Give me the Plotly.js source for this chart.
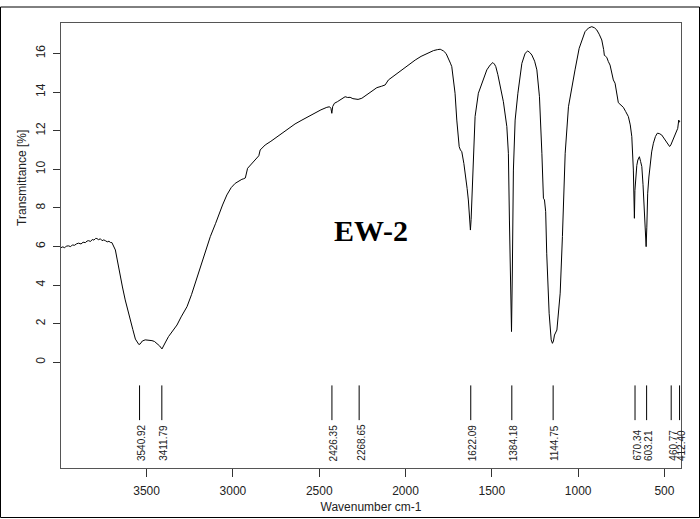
<!DOCTYPE html>
<html>
<head>
<meta charset="utf-8">
<script src="https://cdn.plot.ly/plotly-3.0.1.min.js"></script>
<style>
html,body{margin:0;padding:0;background:#fff;}
#chart{width:700px;height:519px;}
</style>
</head>
<body>
<div id="chart"></div>
<script>
// Wavenumber (cm-1) and transmittance (%)
const wavenumber = [
3996,3985,3975,3965,3952,3940,3930,3918,3905,3894,3880,3868,3855,3845,3836,3825,3815,3805,3795,3788,
3778,3768,3758,3748,3739,3728,3718,3710,3701,3692,3681,3670,3653,3640,3624,3610,3595,3580,3565,3556,
3545,3537,3525,3508,3490,3469,3455,3440,3425,3411,3400,3390,3373,3350,3324,3300,3266,3240,3218,3190,
3166,3131,3100,3083,3060,3035,3010,2987,2965,2948,2940,2928,2915,2900,2880,2861,2850,2842,2813,2780,
2755,2720,2678,2640,2600,2560,2523,2490,2456,2440,2432,2427,2422,2412,2395,2378,2365,2350,2335,2321,
2305,2292,2275,2253,2235,2215,2190,2166,2140,2118,2099,2060,2021,1980,1944,1910,1886,1860,1838,1815,
1799,1790,1780,1765,1751,1740,1732,1722,1713,1703,1695,1689,1682,1674,1662,1651,1643,1636,1630,1624,
1620,1616,1611,1607,1597,1578,1558,1539,1529,1510,1494,1485,1477,1465,1452,1433,1413,1404,1398,1390,
1386,1381,1375,1365,1349,1326,1307,1292,1280,1268,1252,1239,1224,1210,1201,1195,1188,1182,1168,1156,
1149,1143,1137,1123,1104,1091,1075,1056,1033,1018,994,975,960,940,921,905,892,878,863,852,
848,840,834,825,815,796,786,767,752,738,725,709,698,689,680,676,674,671,666,660,
654,648,645,638,631,624,618,612,606,602,597,590,583,574,564,552,541,530,516,506,
496,486,477,470,463,455,448,440,433,423,417,413,409
];
const transmittance = [
5.94,5.98,5.93,6.02,6.03,5.99,6.08,6.06,6.14,6.17,6.13,6.22,6.20,6.28,6.30,6.26,6.36,6.33,6.42,6.41,
6.35,6.40,6.30,6.34,6.30,6.24,6.27,6.21,6.20,6.05,5.82,5.30,4.61,3.90,3.23,2.70,2.19,1.70,1.20,1.07,
0.92,0.95,1.10,1.16,1.15,1.12,1.08,0.98,0.85,0.69,0.85,1.05,1.33,1.62,1.93,2.35,2.88,3.50,4.09,4.90,
5.56,6.51,7.20,7.63,8.15,8.67,9.05,9.27,9.40,9.48,9.50,9.55,10.05,10.20,10.40,10.57,10.70,11.00,11.26,11.45,
11.61,11.85,12.12,12.35,12.55,12.75,12.93,13.08,13.21,13.24,13.15,12.90,13.25,13.42,13.50,13.59,13.70,13.76,13.72,13.73,
13.66,13.64,13.62,13.68,13.80,13.90,14.08,14.23,14.30,14.37,14.63,14.90,15.15,15.42,15.66,15.85,15.96,16.08,16.15,16.20,
16.22,16.18,16.13,16.00,15.75,15.50,15.32,14.70,13.94,12.55,11.60,11.17,11.00,10.91,10.30,9.62,9.00,8.41,7.60,6.85,
7.40,8.41,9.90,11.17,12.73,13.94,14.46,14.89,15.15,15.40,15.53,15.45,15.32,14.90,14.37,13.50,12.21,10.83,7.37,3.92,
1.59,4.78,9.96,12.55,13.94,15.49,16.01,16.13,16.05,15.92,15.60,15.15,13.76,10.83,8.50,8.41,7.80,5.65,2.54,1.16,
0.98,1.10,1.41,1.67,3.58,6.51,10.83,13.24,14.54,15.15,16.27,16.80,17.13,17.32,17.39,17.33,17.22,17.00,16.70,16.20,
15.90,15.85,15.80,15.58,15.40,14.63,14.46,13.45,13.30,13.21,13.00,12.73,12.30,11.69,9.96,8.50,7.46,8.90,9.62,10.20,
10.48,10.60,10.65,10.40,10.14,9.20,8.06,7.00,5.99,7.00,8.76,9.60,10.31,10.90,11.35,11.70,11.87,11.85,11.78,11.65,
11.52,11.35,11.21,11.18,11.26,11.45,11.61,11.75,11.87,12.12,12.55,12.45,12.47
];
// Picked peaks (cm-1)
const peaks = [3540.92, 3411.79, 2426.35, 2268.65, 1622.09, 1384.18, 1144.75, 670.34, 603.21, 460.77, 412.40];
const yTickVals = [0, 2, 4, 6, 8, 10, 12, 14, 16];
const xTickVals = [3500, 3000, 2500, 2000, 1500, 1000, 500];
const sampleName = "EW-2";
const xTitle = "Wavenumber cm-1";
const yTitle = "Transmittance [%]";

const markTop = -1.2, markBottom = -3.0, labelBase = -5.22;

const px = [], py = [];
peaks.forEach(p => { px.push(p, p, null); py.push(markTop, markBottom, null); });

const traces = [
  {x: wavenumber, y: transmittance, type: 'scatter', mode: 'lines',
   line: {color: '#000', width: 1}, hoverinfo: 'skip'},
  {x: px, y: py, type: 'scatter', mode: 'lines',
   line: {color: '#000', width: 1}, hoverinfo: 'skip'}
];

const annotations = peaks.map(p => ({
  x: p, y: labelBase, xref: 'x', yref: 'y', text: p.toFixed(2),
  showarrow: false, textangle: -90, yanchor: 'bottom', xanchor: 'center', xshift: 2,
  font: {family: 'Liberation Sans, Arial, sans-serif', size: 10, color: '#222'}
}));
annotations.push({
  x: 2200, y: 6.85, xref: 'x', yref: 'y', text: '<b>' + sampleName + '</b>', showarrow: false,
  font: {family: 'Liberation Serif, Times New Roman, serif', size: 30, color: '#000'}
});
annotations.push({
  x: -0.063, y: 9.55, xref: 'paper', yref: 'y', text: yTitle, showarrow: false,
  xanchor: 'center', yanchor: 'middle',
  textangle: -90, font: {family: 'Liberation Sans, Arial, sans-serif', size: 12, color: '#222'}
});

const layout = {
  width: 700, height: 519,
  margin: {l: 61, r: 19, t: 23, b: 51, pad: 0},
  paper_bgcolor: '#fff', plot_bgcolor: '#fff',
  showlegend: false,
  xaxis: {
    range: [3996, 404], autorange: false,
    tickvals: xTickVals, ticktext: xTickVals.map(String),
    ticks: 'outside', ticklen: 8, tickcolor: '#333', tickwidth: 1,
    showgrid: false, zeroline: false,
    showline: true, mirror: true, linecolor: '#555', linewidth: 1,
    tickfont: {family: 'Liberation Sans, Arial, sans-serif', size: 12, color: '#222'},
    ticklabelstandoff: 4,
    title: {text: xTitle, standoff: 5,
      font: {family: 'Liberation Sans, Arial, sans-serif', size: 12, color: '#222'}}
  },
  yaxis: {
    range: [-5.48, 17.58], autorange: false,
    tickvals: yTickVals, ticktext: yTickVals.map(String),
    ticks: 'outside', ticklen: 7, tickcolor: '#333', tickwidth: 1,
    tickangle: -90, ticklabelstandoff: 3,
    showgrid: false, zeroline: false,
    showline: true, mirror: true, linecolor: '#555', linewidth: 1,
    tickfont: {family: 'Liberation Sans, Arial, sans-serif', size: 12, color: '#222'}
  },
  annotations: annotations,
  shapes: [{
    type: 'rect', xref: 'paper', yref: 'paper',
    x0: (0.5 - 61) / 620, x1: (699.5 - 61) / 620,
    y0: (468 - 517.5) / 445, y1: (468 - 7) / 445,
    line: {color: '#000', width: 1}, fillcolor: 'rgba(0,0,0,0)'
  }]
};

Plotly.newPlot('chart', traces, layout, {staticPlot: true, displayModeBar: false});
</script>
</body>
</html>
